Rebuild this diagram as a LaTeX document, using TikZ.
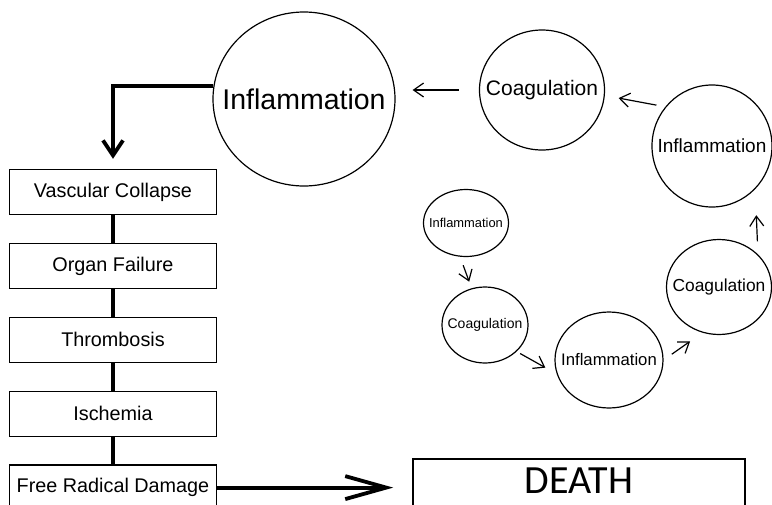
\documentclass[tikz,border=0pt]{standalone}
\usepackage{fontspec}
\setmainfont{Liberation Sans}
\newfontfamily\deathfont{Carlito}
\usetikzlibrary{arrows.meta,positioning,shapes.geometric}
\newcommand\fsz[1]{\fontsize{#1}{#1}\selectfont}

\begin{document}
\begin{tikzpicture}[x=1pt,y=-1pt]
\useasboundingbox (0,0) rectangle (772,504);
\tikzset{stage/.style={draw, line width=1.4pt, minimum width=207pt, minimum height=45pt, inner sep=0pt, font=\fsz{19.8}},
  ring/.style={draw, ellipse, line width=1.2pt, inner sep=0pt},
  link/.style={line width=3.8pt},
  turn/.style={line width=1.2pt, -{Straight Barb[length=10pt,width=14pt]}}}
% cycle of rings
\node[ring, minimum width=182pt, minimum height=174pt, label={[font=\fsz{28.5}]center:Inflammation}] (big) at (304,99) {};
\node[ring, minimum width=125pt, minimum height=120pt, label={[font=\fsz{21}]center:Coagulation}] (coag1) at (542,90) {};
\node[ring, minimum width=120pt, minimum height=122pt, label={[font=\fsz{19}]center:Inflammation}] (infl2) at (712,146) {};
\node[ring, minimum width=105pt, minimum height=95pt, label={[font=\fsz{17.4}]center:Coagulation}] (coag2) at (719,287) {};
\node[ring, minimum width=108pt, minimum height=96pt, label={[font=\fsz{16.7}]center:Inflammation}] (infl3) at (609,360) {};
\node[ring, minimum width=86pt, minimum height=76pt, label={[font=\fsz{14}]center:Coagulation}] (coag3) at (485,325) {};
\node[ring, minimum width=85pt, minimum height=67pt, label={[font=\fsz{12.9}]center:Inflammation}] (infl4) at (466,223) {};
\draw[turn, shorten <=20pt, shorten >=17pt] (coag1.west) -- (coag1.west -| big.east);
\draw[turn, shorten <=9pt, shorten >=14pt] (infl2.140) -- (coag1.-5);
\draw[turn, shorten <=13pt, shorten >=26pt] (coag2.40) -- (infl2.-45);
\draw[turn, shorten <=10pt, shorten >=15pt] (infl3.east) -- (coag2.-110);
\draw[turn, shorten <=4pt, shorten >=13pt] (coag3.-40) -- (infl3.-165);
\draw[turn, shorten <=9pt, shorten >=7pt] (infl4.-100) -- (coag3.110);
% stages
\node[stage] (vc) at (113,192) {Vascular Collapse};
\node[stage, below=27.5pt of vc] (of) {Organ Failure};
\node[stage, below=27.5pt of of] (th) {Thrombosis};
\node[stage, below=27.5pt of th] (isc) {Ischemia};
\node[stage, below=27.5pt of isc] (frd) {Free Radical Damage};
\node[draw, line width=1.5pt, minimum width=332pt, minimum height=52pt, label={[font=\deathfont\fsz{40}, yshift=4pt]center:DEATH}] (death) at (579,485) {};
\draw[link, -{Straight Barb[length=15pt,width=20pt]}, shorten >=10pt] (big.172) -| (vc.north);
\foreach \a/\b in {vc/of, of/th, th/isc, isc/frd}
  \draw[link] (\a) -- (\b);
\draw[link, -{Straight Barb[length=41pt,width=23pt]}, shorten >=19pt] (frd.east) -- (frd.east -| death.west);
\end{tikzpicture}
\end{document}
